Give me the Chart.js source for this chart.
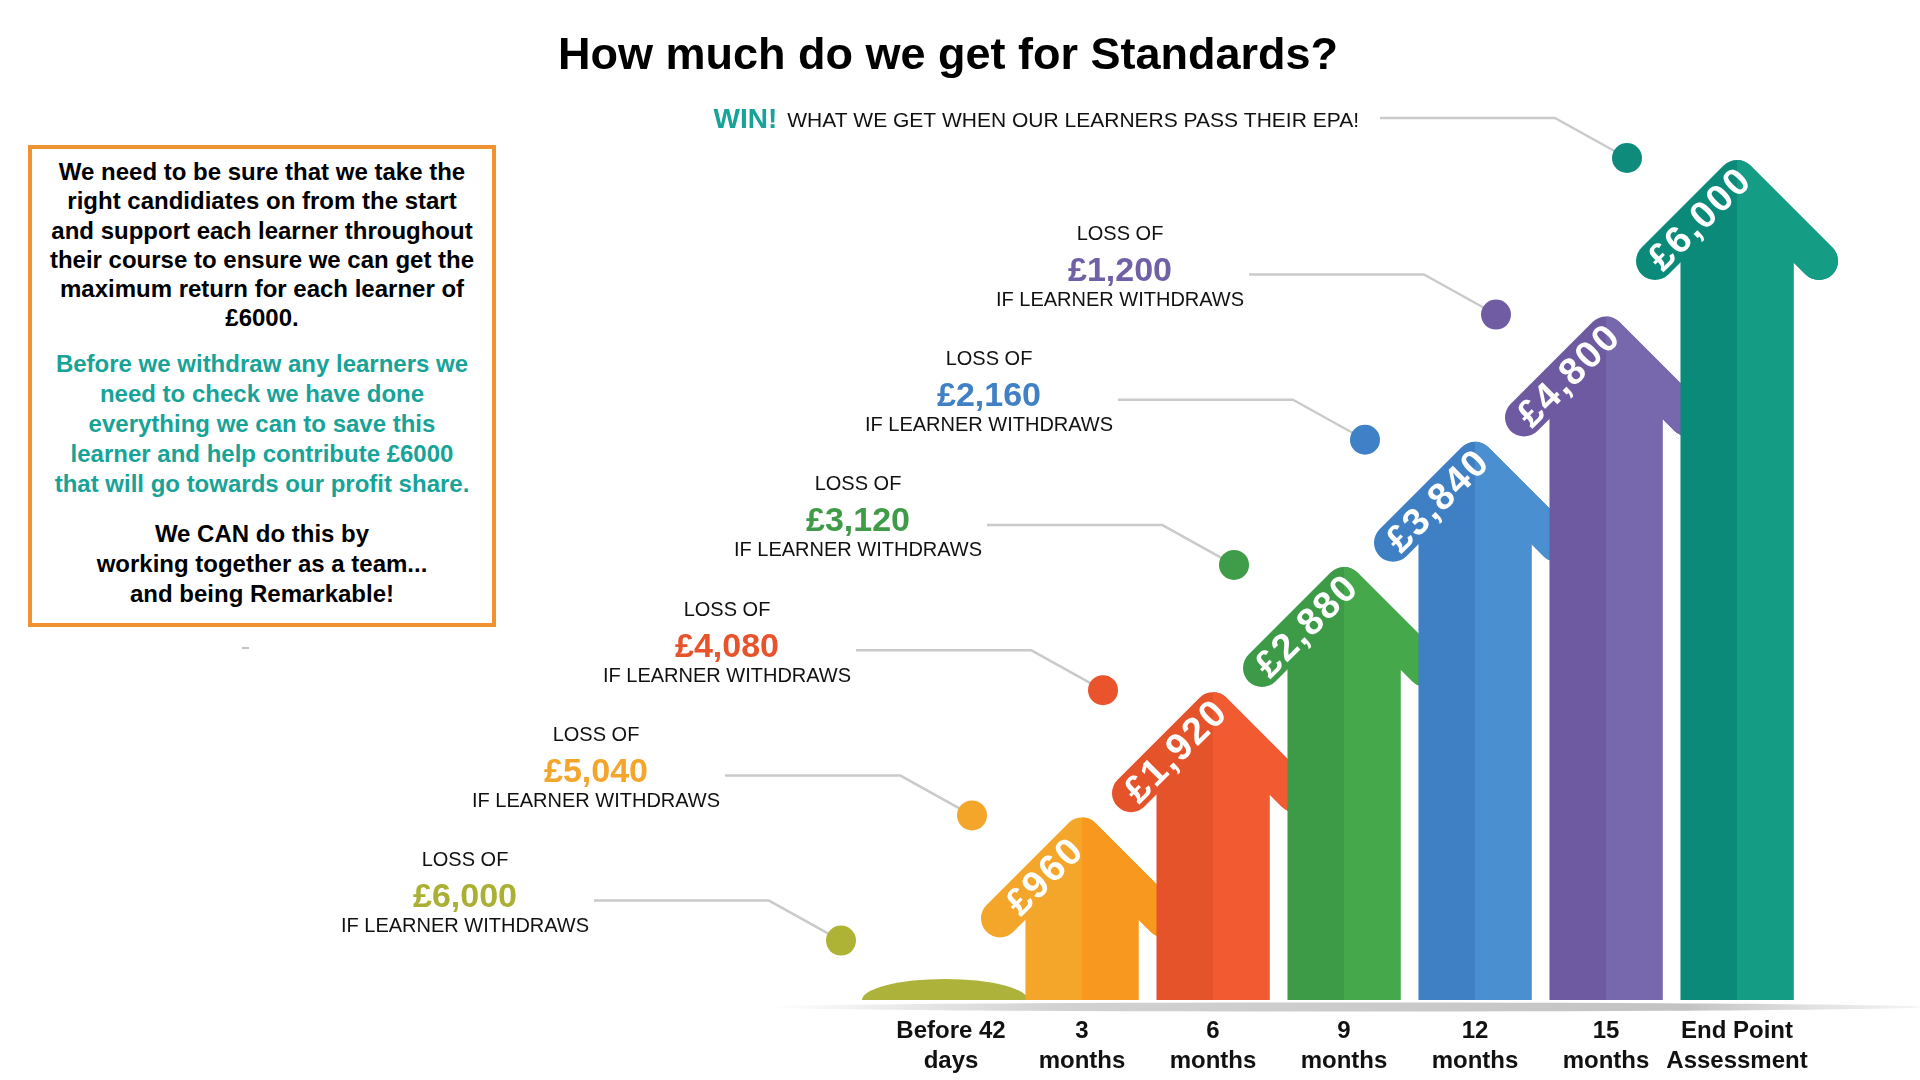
<!DOCTYPE html>
<html>
<head>
<meta charset="utf-8">
<title>How much do we get for Standards?</title>
<script src="https://cdn.jsdelivr.net/npm/chart.js@4.4.1/dist/chart.umd.min.js"></script>
<style>
  html, body { margin: 0; padding: 0; background: #fff; }
  body {
    width: 1920px; height: 1080px; position: relative; overflow: hidden;
    font-family: "Liberation Sans", Arial, sans-serif; color: #000;
  }
  .chart-wrap { position: absolute; left: 0; top: 0; width: 1920px; height: 1080px; }
  #title {
    position: absolute; left: 0; top: 28px; width: 1896px; line-height: 52px;
    text-align: center; font-size: 45px; font-weight: bold;
  }
  #note {
    position: absolute; left: 28px; top: 145px; width: 468px; height: 482px;
    box-sizing: border-box; border: 4px solid #f0922f; background: #fff;
    text-align: center; font-weight: bold; font-size: 24px; white-space: nowrap;
  }
  #note p { margin: 0; }
  #note .p1 { line-height: 29.3px; margin-top: 8px; }
  #note .p2 { line-height: 30px; margin-top: 16px; color: #17a398; }
  #note .p3 { line-height: 30px; margin-top: 20px; }
  #dash { position: absolute; left: 242px; top: 647px; width: 7px; height: 2px; background: #c4c4c4; }
</style>
</head>
<body>
<div class="chart-wrap"><canvas id="standardsChart"></canvas></div>
<div id="title">How much do we get for Standards?</div>
<div id="note">
  <p class="p1">We need to be sure that we take the<br>right candidiates on from the start<br>and support each learner throughout<br>their course to ensure we can get the<br>maximum return for each learner of<br>£6000.</p>
  <p class="p2">Before we withdraw any learners we<br>need to check we have done<br>everything we can to save this<br>learner and help contribute £6000<br>that will go towards our profit share.</p>
  <p class="p3">We CAN do this by<br>working together as a team...<br>and being Remarkable!</p>
</div>
<div id="dash"></div>
<script>
// funding stages
const stages = [
  ['Before 42', 'days'], ['3', 'months'], ['6', 'months'], ['9', 'months'],
  ['12', 'months'], ['15', 'months'], ['End Point', 'Assessment'],
];
// what we get at each stage (£)
const received = [0, 960, 1920, 2880, 3840, 4800, 6000];
// what we lose if the learner withdraws at that stage (£)
const lossIfWithdrawn = [6000, 5040, 4080, 3120, 2160, 1200];

const FONT = '"Liberation Sans", Arial, sans-serif';
const leftShade = ['#adb33a', '#f4a62a', '#e5532b', '#3d9a47', '#3f7fc3', '#6d5aa0', '#0b8a79'];
const rightShade = ['#adb33a', '#f8981f', '#f25a31', '#45a84b', '#4a8fd0', '#7767ad', '#149c84'];
const dotColour = ['#aeb335', '#f4a62a', '#e9542c', '#3f9c48', '#3f81c6', '#6f5ca3', '#0e8b7a'];
const moneyColour = ['#aab034', '#f4a52b', '#e8532b', '#3f9b47', '#4180c5', '#7060a5'];
const teal = '#17a398';

const pounds = (v) => '£' + v.toLocaleString('en-GB');

function drawArrow(ctx, cx, tip, base, w, left, right) {
  const half = w / 2;
  const thick = 38;
  const arm = 82;
  const p0 = tip + thick / 2;
  const shape = () => {
    // shaft, with a pointed top that sits under the chevron
    ctx.beginPath();
    ctx.moveTo(cx - half, base);
    ctx.lineTo(cx - half, p0 + half);
    ctx.lineTo(cx, p0);
    ctx.lineTo(cx + half, p0 + half);
    ctx.lineTo(cx + half, base);
    ctx.closePath();
    ctx.fill();
    // head
    ctx.beginPath();
    ctx.moveTo(cx - arm, p0 + arm);
    ctx.lineTo(cx, p0);
    ctx.lineTo(cx + arm, p0 + arm);
    ctx.stroke();
  };
  ctx.save();
  ctx.lineWidth = thick;
  ctx.lineCap = 'round';
  ctx.lineJoin = 'round';
  ctx.fillStyle = ctx.strokeStyle = left;
  shape();
  ctx.beginPath();
  ctx.rect(cx, 0, 4000, 4000);
  ctx.clip();
  ctx.fillStyle = ctx.strokeStyle = right;
  shape();
  ctx.restore();
}

const arrowPlugin = {
  id: 'arrows',
  beforeDatasetsDraw(chart) {
    // floor shadow
    const ctx = chart.ctx;
    const a = chart.chartArea;
    ctx.save();
    const g = ctx.createLinearGradient(770, 0, 1918, 0);
    g.addColorStop(0, 'rgba(200,200,200,0)');
    g.addColorStop(0.25, 'rgba(205,205,205,0.9)');
    g.addColorStop(0.8, 'rgba(195,195,195,1)');
    g.addColorStop(1, 'rgba(215,215,215,0.3)');
    ctx.fillStyle = g;
    ctx.beginPath();
    ctx.ellipse(1345, a.bottom + 7, 575, 4.5, 0, 0, Math.PI * 2);
    ctx.fill();
    ctx.restore();
  },
  afterDatasetsDraw(chart) {
    const ctx = chart.ctx;
    const y = chart.scales.y;
    const meta = chart.getDatasetMeta(0);

    meta.data.forEach((bar, i) => {
      const p = bar.getProps(['x', 'y', 'base', 'width'], true);
      if (received[i] === 0) {
        ctx.save();
        ctx.fillStyle = leftShade[i];
        ctx.beginPath();
        ctx.ellipse(p.x - 6, p.base, 83, 21, 0, Math.PI, 0);
        ctx.closePath();
        ctx.fill();
        ctx.restore();
        return;
      }
      drawArrow(ctx, p.x, p.y, p.base, p.width, leftShade[i], rightShade[i]);
      ctx.save();
      ctx.translate(p.x - 36, p.y + 60);
      ctx.rotate(-Math.PI / 4);
      ctx.fillStyle = '#fff';
      ctx.font = 'bold 38px ' + FONT;
      ctx.letterSpacing = '2px';
      ctx.textAlign = 'center';
      ctx.textBaseline = 'middle';
      ctx.fillText(pounds(received[i]), 0, 0);
      ctx.restore();
    });

    // callouts
    meta.data.forEach((bar, i) => {
      const dx = bar.x - 110;
      const dy = y.getPixelForValue(received[i]) - 2;
      const ex = dx - 72, ey = dy - 40;
      const sx = ex - 175;
      ctx.save();
      ctx.strokeStyle = '#cacaca';
      ctx.lineWidth = 2.5;
      ctx.lineJoin = 'round';
      ctx.beginPath();
      ctx.moveTo(sx, ey);
      ctx.lineTo(ex, ey);
      ctx.lineTo(dx, dy);
      ctx.stroke();
      ctx.fillStyle = dotColour[i];
      ctx.beginPath();
      ctx.arc(dx, dy, 15, 0, Math.PI * 2);
      ctx.fill();

      ctx.textBaseline = 'middle';
      if (i < lossIfWithdrawn.length) {
        const cx = sx - 129;
        ctx.textAlign = 'center';
        ctx.fillStyle = '#111';
        ctx.font = '20px ' + FONT;
        ctx.fillText('LOSS OF', cx, ey - 40);
        ctx.fillText('IF LEARNER WITHDRAWS', cx, ey + 26);
        ctx.fillStyle = moneyColour[i];
        ctx.font = 'bold 34px ' + FONT;
        ctx.fillText(pounds(lossIfWithdrawn[i]), cx, ey - 3);
      } else {
        const rx = sx - 21;
        ctx.textAlign = 'right';
        ctx.fillStyle = '#111';
        ctx.font = '21px ' + FONT;
        const msg = 'WHAT WE GET WHEN OUR LEARNERS PASS THEIR EPA!';
        ctx.fillText(msg, rx, ey + 3);
        const mw = ctx.measureText(msg).width;
        ctx.fillStyle = teal;
        ctx.font = 'bold 28px ' + FONT;
        ctx.fillText('WIN!', rx - mw - 10, ey + 2);
      }
      ctx.restore();
    });
  },
};

const data = {
  labels: stages,
  datasets: [
    {
      label: 'Received',
      data: received,
      base: -440,
      backgroundColor: 'rgba(0,0,0,0)',
      borderWidth: 0,
      categoryPercentage: 1,
      barPercentage: 0.863,
    },
  ],
};

const config = {
  type: 'bar',
  data: data,
  options: {
    responsive: true,
    maintainAspectRatio: false,
    animation: false,
    layout: {
      padding: { left: 885.5, right: 117.5, top: 100, bottom: 0 },
    },
    scales: {
      x: {
        grid: { display: false, drawTicks: false },
        border: { display: false },
        afterFit(scale) {
          scale.height = 80;
        },
        ticks: {
          padding: 16,
          color: '#111',
          font: { family: FONT, size: 24, weight: 'bold', lineHeight: 1.25 },
          maxRotation: 0,
          autoSkip: false,
        },
      },
      y: {
        display: false,
        min: -440,
        max: 6460,
      },
    },
    plugins: {
      legend: { display: false },
      tooltip: { enabled: false },
    },
  },
  plugins: [arrowPlugin],
};

new Chart(document.getElementById('standardsChart').getContext('2d'), config);
</script>
</body>
</html>
